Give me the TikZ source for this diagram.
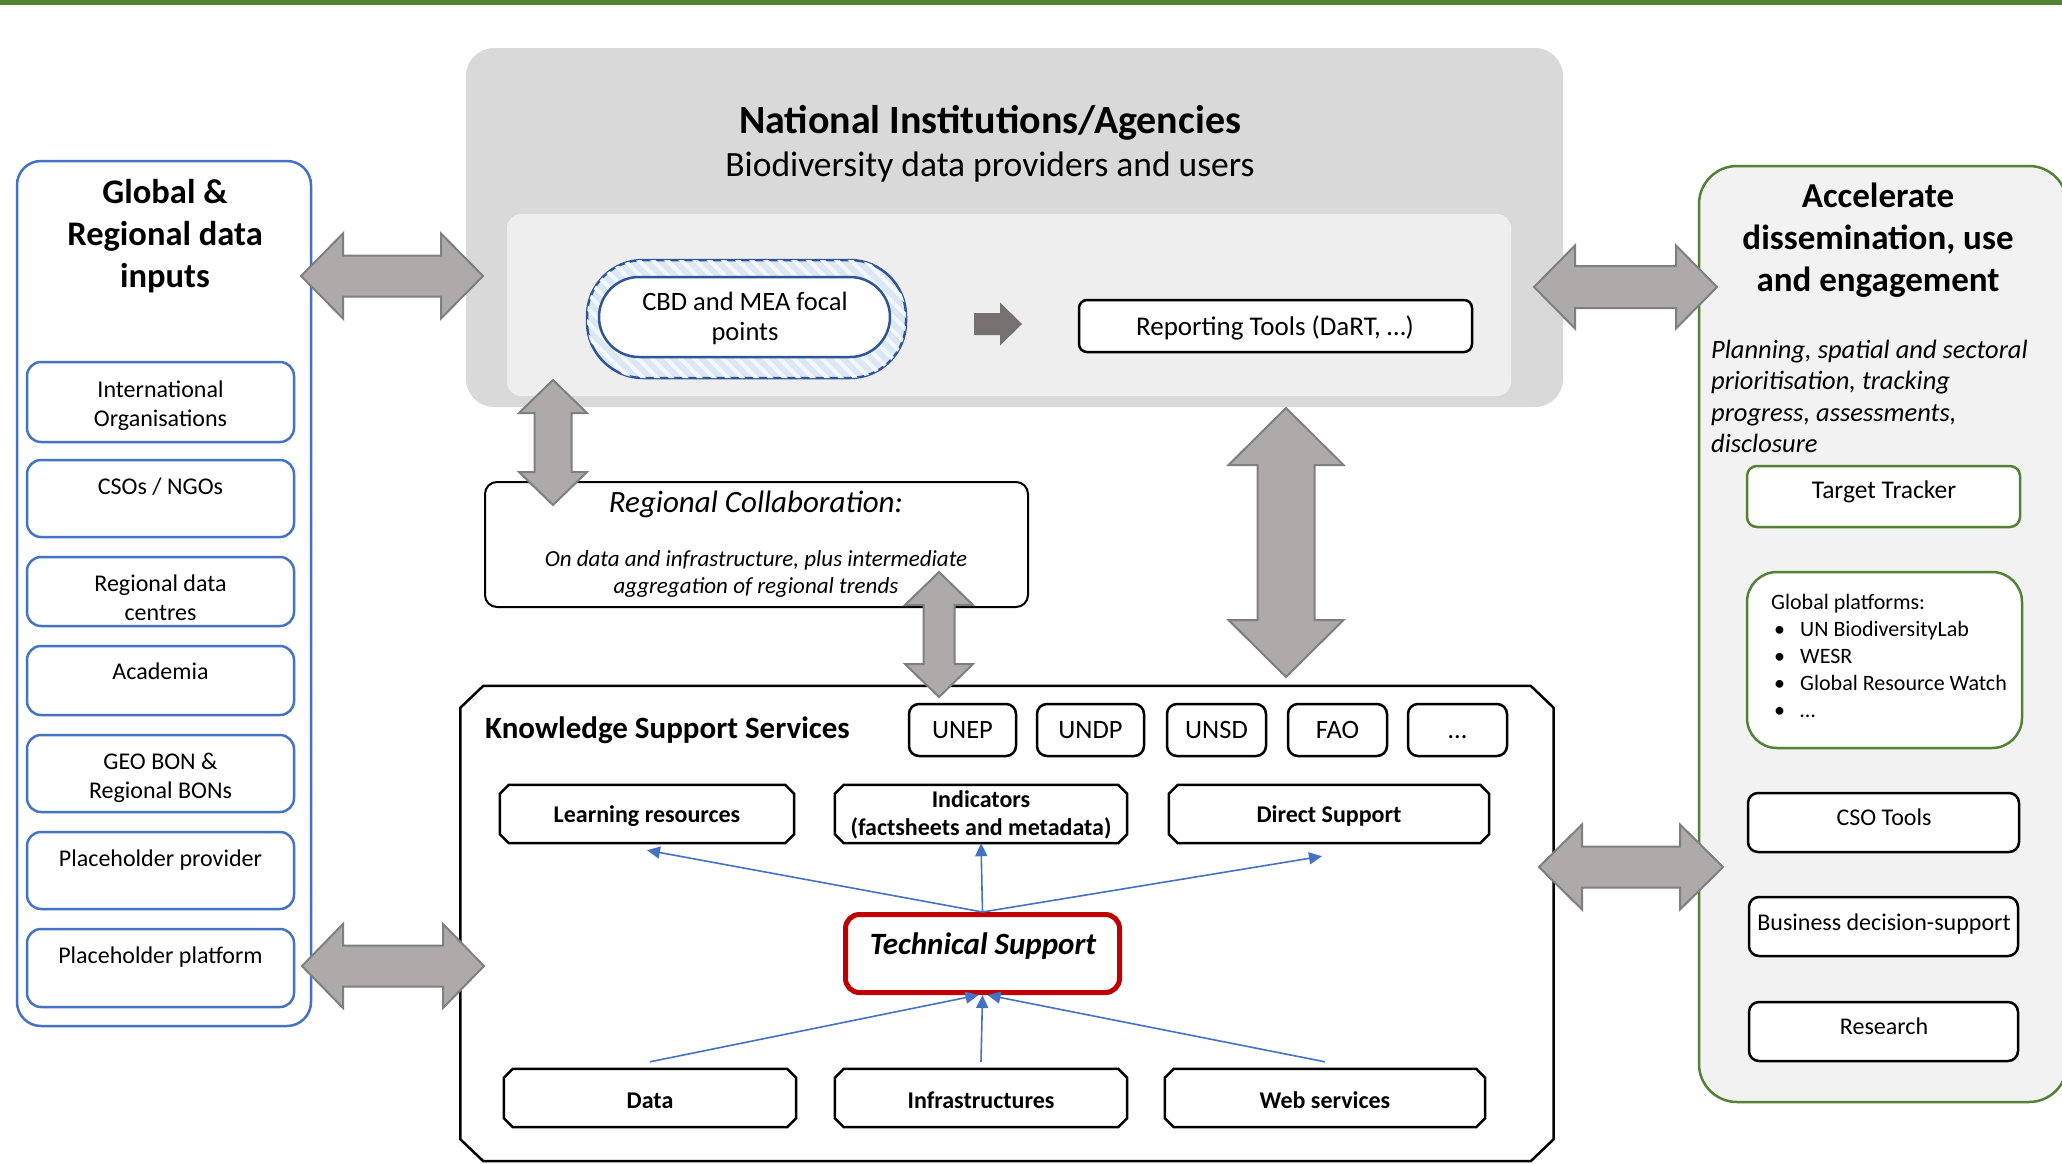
\documentclass[tikz,border=0pt]{standalone}
\usepackage{fontspec}
\setmainfont{Carlito}
\usetikzlibrary{calc,arrows.meta,patterns.meta}
\definecolor{gbar}{HTML}{548235}
\definecolor{bluebd}{HTML}{4472C4}
\definecolor{natgray}{HTML}{D9D9D9}
\definecolor{natlight}{HTML}{EEEEEE}
\definecolor{ringblue}{HTML}{2F5597}
\definecolor{ringfill}{HTML}{DAE8F5}
\definecolor{arrfill}{HTML}{AEAAAA}
\definecolor{arrdraw}{HTML}{7F7F7F}
\definecolor{darkarr}{HTML}{767171}
\definecolor{greenfill}{HTML}{F2F2F2}
\definecolor{tsred}{HTML}{C00000}

\newcommand\myfs[2]{\fontsize{#1}{#2}\selectfont}
\newcommand\Cl[1]{\vtop{\halign{\hfil##\hfil\cr#1\crcr}}}
\newcommand\Ll[1]{\vtop{\halign{##\hfil\cr#1\crcr}}}

% block double arrow between two named coordinates: A, B, half head, half shaft, head length
\newcommand\blockarrow[5]{%
  \path ($(#1)!#5!(#2)$) coordinate (ba1) ($(#2)!#5!(#1)$) coordinate (ba2);
  \draw[blockarr] (#1) -- ($(ba1)!#3!90:(#2)$) -- ($(ba1)!#4!90:(#2)$)
    -- ($(ba2)!#4!-90:(#1)$) -- ($(ba2)!#3!-90:(#1)$) -- (#2)
    -- ($(ba2)!#3!90:(#1)$) -- ($(ba2)!#4!90:(#1)$)
    -- ($(ba1)!#4!-90:(#2)$) -- ($(ba1)!#3!-90:(#2)$) -- cycle;}
% single block arrow from A (tail) to B (tip)
\newcommand\singlearrow[5]{%
  \path ($(#2)!#5!(#1)$) coordinate (sb2);
  \fill[darkarr] ($(#1)!#4!90:(#2)$) -- ($(sb2)!#4!-90:(#1)$) -- ($(sb2)!#3!-90:(#1)$) -- (#2)
    -- ($(sb2)!#3!90:(#1)$) -- ($(sb2)!#4!90:(#1)$) -- ($(#1)!#4!-90:(#2)$) -- cycle;}
% chamfered outline around a named (invisible) node
\newcommand\chamf[4]{%
  \draw[draw=black, line width=#4pt, fill=white, line join=miter]
    ([xshift=#2pt]#1.north west) -- ([xshift=-#2pt]#1.north east) -- ([yshift=-#3pt]#1.north east)
    -- ([yshift=#3pt]#1.south east) -- ([xshift=-#2pt]#1.south east) -- ([xshift=#2pt]#1.south west)
    -- ([yshift=#3pt]#1.south west) -- ([yshift=-#3pt]#1.north west) -- cycle;}

\tikzset{
  lbl/.style={inner sep=0pt, anchor=base},
  sz/.style 2 args={minimum width=#1pt, minimum height=#2pt},
  bluebox/.style={draw=bluebd, line width=2.5pt, fill=white, rounded corners=14pt, inner sep=0pt},
  blkbox/.style={draw=black, line width=2.5pt, fill=white, rounded corners=10pt, inner sep=0pt},
  grnbox/.style={draw=gbar, line width=2.5pt, fill=white, rounded corners=10pt, inner sep=0pt},
  ghost/.style={draw=none, inner sep=0pt},
  blockarr/.style={fill=arrfill, draw=arrdraw, line width=2pt, line join=miter},
  tsarr/.style={draw=bluebd, line width=1.6pt, -{Triangle[length=13pt,width=12pt]}},
  itemfont/.style={font=\myfs{24}{29.3}},
  boldsm/.style={font=\bfseries\myfs{24}{28}},
}

\begin{document}
\begin{tikzpicture}[x=1pt,y=-1pt]
\useasboundingbox (0,0) rectangle (2062,1163);
\fill[white] (0,0) rectangle (2062,1163);
\fill[gbar] (0,0) rectangle (2062,5);

% ---------------- left column
\node[bluebox, rounded corners=24pt, sz={294}{865}] (gin) at (164,593.5) {};
\node[lbl, font=\bfseries\myfs{34.5}{42}] (gintitle) at (165,203) {\Cl{Global \&\cr Regional data\cr inputs}};
\node[bluebox, sz={267}{80}] (io) at (160.5,402) {};
\node[bluebox, sz={267}{77}] (cso) at (160.5,498.5) {};
\node[bluebox, sz={267}{69}] (rdc) at (160.5,591.5) {};
\node[bluebox, sz={267}{69}] (acad) at (160.5,680.5) {};
\node[bluebox, sz={267}{77}] (geo) at (160.5,773.5) {};
\node[bluebox, sz={267}{77}] (pprov) at (160.5,870.5) {};
\node[bluebox, sz={267}{78}] (pplat) at (160.5,968) {};
\node[lbl, itemfont] (iot) at (160.5,397) {\Cl{International\cr Organisations}};
\node[lbl, itemfont] (csot1) at (160.5,494) {CSOs / NGOs};
\node[lbl, itemfont] (rdct) at (160.5,591) {\Cl{Regional data\cr centres}};
\node[lbl, itemfont] (acadt) at (160.5,679) {Academia};
\node[lbl, itemfont] (geot) at (160.5,769) {\Cl{GEO BON \&\cr Regional BONs}};
\node[lbl, itemfont] (pprovt) at (160.5,866) {Placeholder provider};
\node[lbl, itemfont] (pplatt) at (160.5,963) {Placeholder platform};

% ---------------- national institutions
\node[fill=natgray, rounded corners=28pt, inner sep=0pt, sz={1097}{359}] (nat) at (1014.5,227.5) {};
\node[fill=natlight, rounded corners=14pt, inner sep=0pt, sz={1004}{182}] (natin) at (1009,305) {};
\node[lbl, font=\bfseries\myfs{40}{48}] (nattitle) at (990,133) {National Institutions/Agencies};
\node[lbl, font=\myfs{35.5}{43}] (natsub) at (990,176) {Biodiversity data providers and users};
\node[draw=ringblue, line width=2.5pt, fill=ringfill, rounded corners=56pt, inner sep=0pt, sz={319}{118},
      postaction={pattern={Lines[angle=-45,distance=10pt,line width=4pt]}, pattern color=white!70!ringfill}] (cbdo) at (746.5,319) {};
\node[draw=ringblue, line width=2.5pt, fill=white, rounded corners=40pt, inner sep=0pt, sz={291}{80}] (cbd) at (744.5,317) {};
\node[lbl, font=\myfs{26.5}{30}] (cbdt) at (745,310) {\Cl{CBD and MEA focal\cr points}};
\node[blkbox, rounded corners=8pt, sz={393}{52}] (rep) at (1275.5,326) {};
\node[lbl, font=\myfs{27}{32}] (rept) at (1275,335) {Reporting Tools (DaRT, …)};
\coordinate (sArA) at (974,324);
\coordinate (sArB) at (1022,324);
\singlearrow{sArA}{sArB}{21.5pt}{11pt}{22pt}

% ---------------- right column
\node[draw=gbar, line width=2.5pt, fill=greenfill, rounded corners=38pt, inner sep=0pt, sz={368}{936}] (acc) at (1883,634) {};
\node[lbl, font=\bfseries\myfs{35}{42}] (acct) at (1878,207) {\Cl{Accelerate\cr dissemination, use\cr and engagement}};
\node[lbl, anchor=base west, font=\itshape\myfs{26.5}{31.5}] (plan) at (1711,358)
  {\Ll{Planning, spatial and sectoral\cr prioritisation, tracking\cr progress, assessments,\cr disclosure}};
\node[grnbox, sz={273}{61}] (tt) at (1883.5,496.5) {};
\node[lbl, font=\myfs{25.5}{30}] (ttt) at (1884,498) {Target Tracker};
\node[grnbox, rounded corners=30pt, sz={275}{176}] (gp) at (1884.5,660) {};
\node[lbl, anchor=base west, font=\myfs{22}{27}] (gpt) at (1771,609)
  {\Ll{Global platforms:\cr \hspace*{3pt}\makebox[26pt][l]{•}UN BiodiversityLab\cr \hspace*{3pt}\makebox[26pt][l]{•}WESR\cr \hspace*{3pt}\makebox[26pt][l]{•}Global Resource Watch\cr \hspace*{3pt}\makebox[26pt][l]{•}…}};
\node[blkbox, sz={271}{59}] (csotl) at (1883.5,822.5) {};
\node[lbl, itemfont] (csotlt) at (1884,825) {CSO Tools};
\node[blkbox, sz={269}{59}] (bds) at (1883.5,926.5) {};
\node[lbl, itemfont] (bdst) at (1884,930) {Business decision-support};
\node[blkbox, sz={269}{59}] (res) at (1883.5,1031.5) {};
\node[lbl, itemfont] (rest) at (1884,1034) {Research};

% ---------------- regional collaboration
\node[blkbox, line width=2pt, rounded corners=12pt, sz={543}{125}] (rc) at (756.5,544.5) {};
\node[lbl, font=\itshape\myfs{31}{37}] (rct) at (756,512) {Regional Collaboration:};
\node[lbl, font=\itshape\myfs{23}{27}] (rcs) at (756,566) {\Cl{On data and infrastructure, plus intermediate\cr aggregation of regional trends}};

% ---------------- knowledge support services
\node[ghost, sz={1093}{475}] (ks) at (1007,923.5) {};
\chamf{ks}{23}{22}{2.5}
\node[lbl, anchor=base west, font=\bfseries\myfs{31}{37}] (kst) at (485,738) {Knowledge Support Services};
\node[blkbox, sz={107}{52}] (unep) at (962.5,730) {};
\node[blkbox, sz={107}{52}] (undp) at (1090.5,730) {};
\node[blkbox, sz={99}{52}] (unsd) at (1216.5,730) {};
\node[blkbox, sz={99}{52}] (fao) at (1337.5,730) {};
\node[blkbox, sz={99}{52}] (etc) at (1457.5,730) {};
\node[lbl, font=\myfs{26.5}{31}] (unept) at (962.5,738) {UNEP};
\node[lbl, font=\myfs{26.5}{31}] (undpt) at (1090.5,738) {UNDP};
\node[lbl, font=\myfs{26.5}{31}] (unsdt) at (1216.5,738) {UNSD};
\node[lbl, font=\myfs{26.5}{31}] (faot) at (1337.5,738) {FAO};
\node[lbl, font=\myfs{26.5}{31}] (etct) at (1457.5,738) {…};

\node[ghost, sz={294}{58}] (lr) at (647,814) {};
\chamf{lr}{9}{9}{2.5}
\node[ghost, sz={292}{58}] (ind) at (981,814) {};
\chamf{ind}{9}{9}{2.5}
\node[ghost, sz={320}{58}] (ds) at (1329,814) {};
\chamf{ds}{9}{9}{2.5}
\node[lbl, boldsm] (lrt) at (647,822) {Learning resources};
\node[lbl, boldsm] (indt) at (981,807) {\Cl{Indicators\cr (factsheets and metadata)}};
\node[lbl, boldsm] (dst) at (1329,822) {Direct Support};

\node[draw=tsred, line width=5pt, fill=white, rounded corners=14pt, inner sep=0pt, sz={274}{78}] (ts) at (982.5,953.5) {};
\node[lbl, font=\bfseries\itshape\myfs{31}{37}] (tst) at (983,954) {Technical Support};

\node[ghost, sz={292}{58}] (data) at (650,1098) {};
\chamf{data}{9}{9}{2.5}
\node[ghost, sz={292}{58}] (infra) at (981,1098) {};
\chamf{infra}{9}{9}{2.5}
\node[ghost, sz={320}{58}] (web) at (1325,1098) {};
\chamf{web}{9}{9}{2.5}
\node[lbl, boldsm] (datat) at (650,1108) {Data};
\node[lbl, boldsm] (infrat) at (981,1108) {Infrastructures};
\node[lbl, boldsm] (webt) at (1325,1108) {Web services};

% blue arrows
\draw[tsarr] (ts.north) -- ([yshift=-7pt]lr.south);
\draw[tsarr] (ts.north) -- (ind.south);
\draw[tsarr] (ts.north) -- ([shift={(-7pt,-13pt)}]ds.south);
\draw[tsarr] ([yshift=7pt]data.north) -- ([xshift=-4pt]ts.south);
\draw[tsarr] ([yshift=7pt]infra.north) -- (ts.south);
\draw[tsarr] ([yshift=7pt]web.north) -- ([xshift=5pt]ts.south);

% ---------------- block arrows
\coordinate (aTLa) at (301,276);   \coordinate (aTLb) at (483,276);
\coordinate (aTRa) at (1534,287);  \coordinate (aTRb) at (1717,287);
\coordinate (aBLa) at (302,966);   \coordinate (aBLb) at (484,966);
\coordinate (aBRa) at (1539,867);  \coordinate (aBRb) at (1723,867);
\coordinate (aV1a) at (553,380);   \coordinate (aV1b) at (553,505);
\coordinate (aV2a) at (939,572);   \coordinate (aV2b) at (939,697);
\coordinate (aV3a) at (1286,408);  \coordinate (aV3b) at (1286,677);
\blockarrow{aTLa}{aTLb}{42.5pt}{20.5pt}{42pt}
\blockarrow{aTRa}{aTRb}{41.5pt}{21pt}{41pt}
\blockarrow{aBLa}{aBLb}{42pt}{20.5pt}{41pt}
\blockarrow{aBRa}{aBRb}{42.5pt}{20.5pt}{43pt}
\blockarrow{aV1a}{aV1b}{34pt}{18.5pt}{33pt}
\blockarrow{aV2a}{aV2b}{34pt}{15.5pt}{33pt}
\blockarrow{aV3a}{aV3b}{57.5pt}{28.5pt}{57pt}
\end{tikzpicture}
\end{document}
